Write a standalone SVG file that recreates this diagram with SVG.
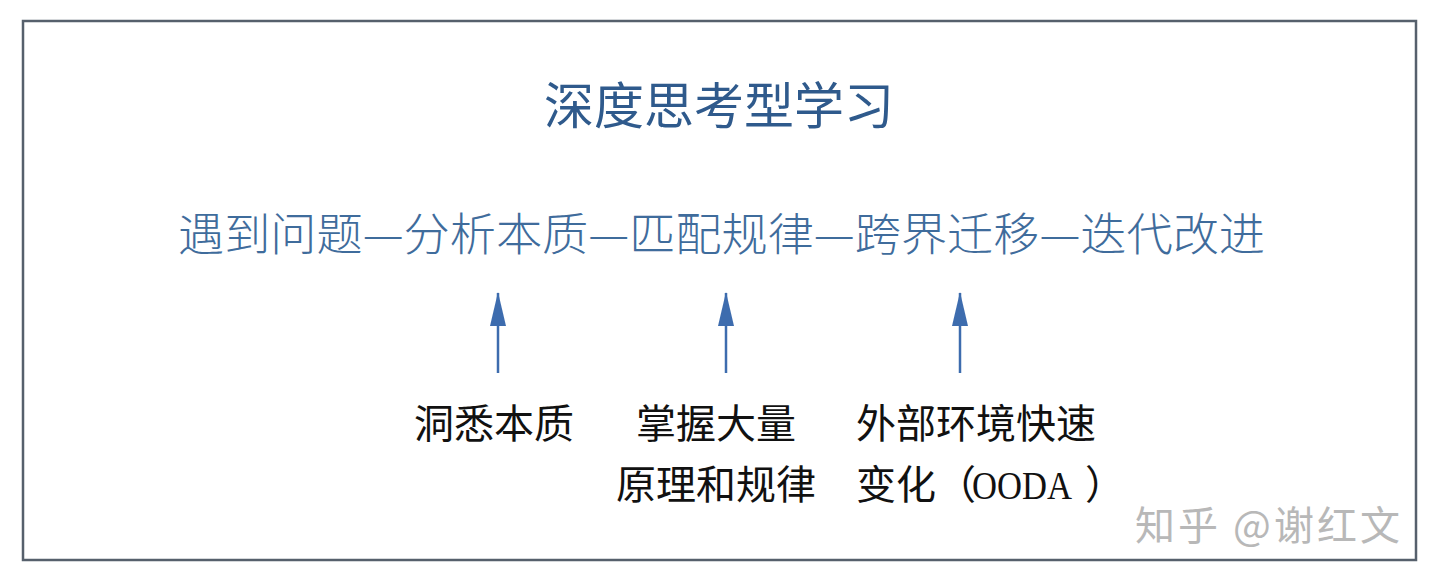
<svg xmlns="http://www.w3.org/2000/svg" width="1440" height="581" viewBox="0 0 1440 581">
<style>
.title{font-family:"Noto Sans CJK SC","Noto Sans",sans-serif;font-size:50px;fill:#2f5a8c;}
.main{font-family:"Noto Sans CJK SC","Noto Sans",sans-serif;font-size:45px;fill:#3f6c9c;font-weight:300;}
.lab{font-family:"Liberation Serif","Noto Sans CJK SC",serif;font-size:40px;fill:#111;}
.wm{font-family:"Noto Sans CJK SC",sans-serif;font-size:40px;fill:#b8b8b8;}
.arr{stroke:#3d6cae;stroke-width:2.5;fill:none;}
</style>
<defs>
<marker id="ah" markerUnits="userSpaceOnUse" markerWidth="34" markerHeight="18" refX="33" refY="9" orient="auto" viewBox="0 0 34 18">
<path d="M0 1 L34 9 L0 17 Z" fill="#3d6cae"/>
</marker>
</defs>
<rect x="0" y="0" width="1440" height="581" fill="#ffffff"/>
<rect x="23" y="21" width="1393" height="539" fill="none" stroke="#56606c" stroke-width="2.5"/>
<g id="title"><text class="title" x="719" y="124" text-anchor="middle">深度思考型学习</text></g>
<g id="chain"><text class="main" x="178" y="251" textLength="1087" lengthAdjust="spacingAndGlyphs">遇到问题—分析本质—匹配规律—跨界迁移—迭代改进</text></g>
<g id="connectors">
<line class="arr" x1="498" y1="373" x2="498" y2="293" marker-end="url(#ah)"/>
<line class="arr" x1="726" y1="373" x2="726" y2="293" marker-end="url(#ah)"/>
<line class="arr" x1="960" y1="373" x2="960" y2="293" marker-end="url(#ah)"/>
</g>
<g id="label1"><text class="lab" x="414" y="438">洞悉本质</text></g>
<g id="label2"><text class="lab" x="716" y="438" text-anchor="middle">掌握大量</text><text class="lab" x="716" y="499" text-anchor="middle">原理和规律</text></g>
<g id="label3"><text class="lab" x="856" y="438">外部环境快速</text><text class="lab" x="856" y="499">变化（</text><text class="lab" x="972" y="499" textLength="100" lengthAdjust="spacingAndGlyphs">OODA</text><text class="lab" x="1085" y="499">）</text></g>
<g id="watermark"><text class="wm" x="1135" y="540" textLength="265">知乎 @谢红文</text></g>
</svg>
